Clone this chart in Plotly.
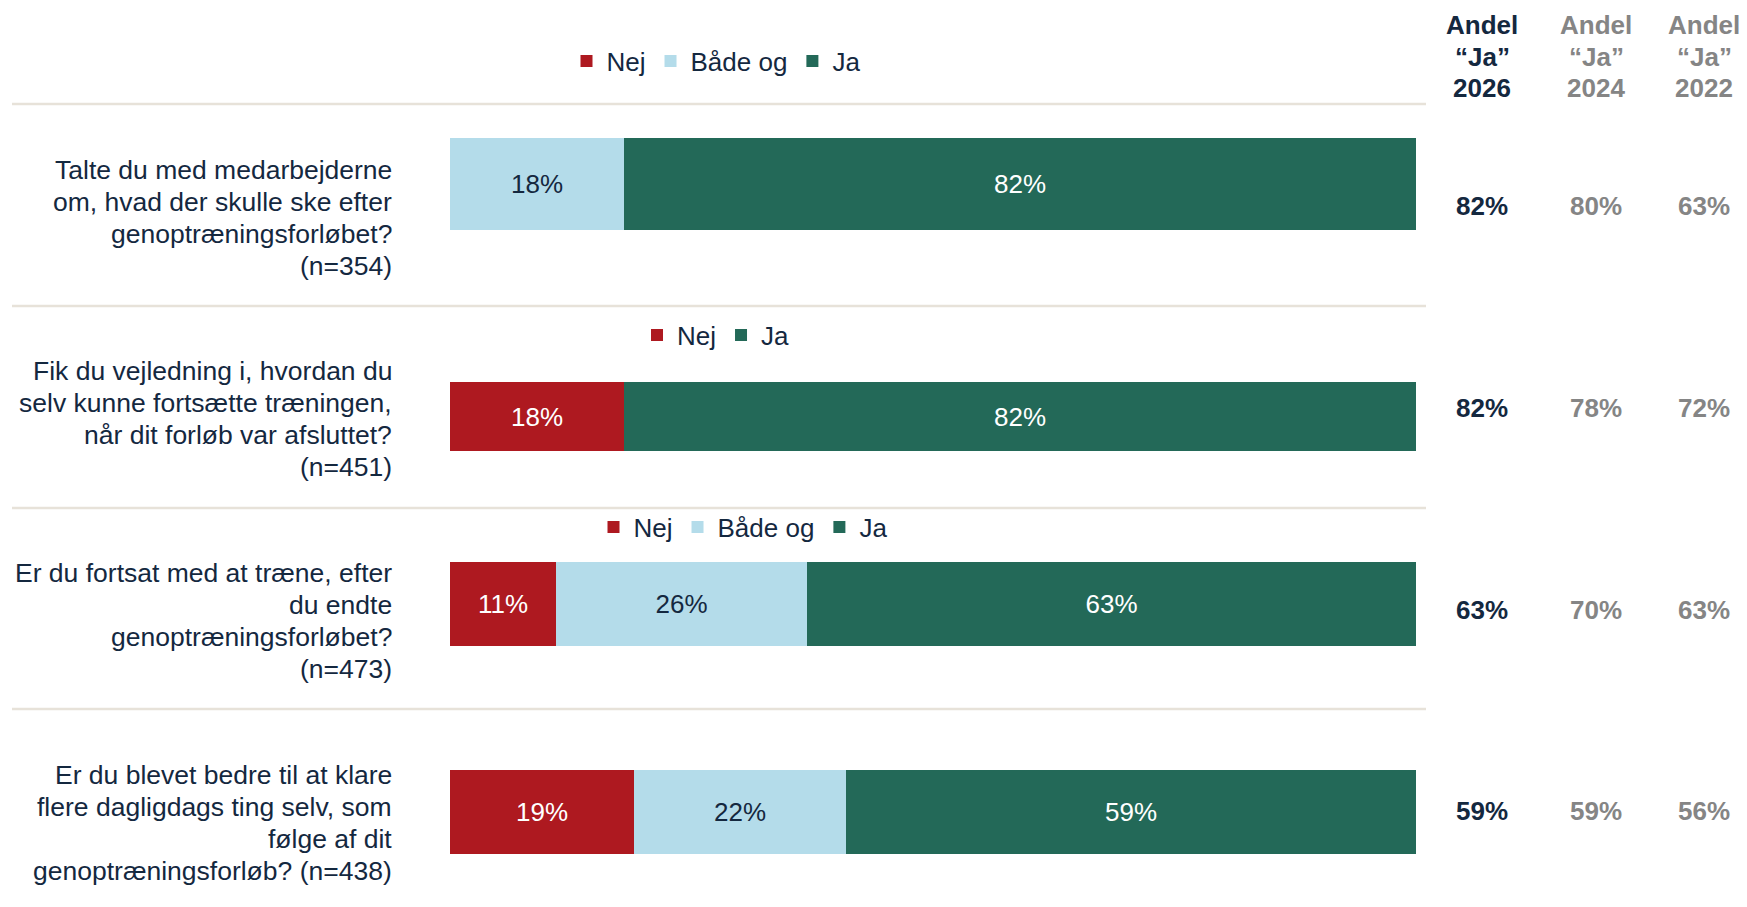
import plotly.graph_objects as go

# ---------------- data ----------------
questions = [
    "Talte du med medarbejderne<br>om, hvad der skulle ske efter<br>genoptræningsforløbet?<br>(n=354)",
    "Fik du vejledning i, hvordan du<br>selv kunne fortsætte træningen,<br>når dit forløb var afsluttet?<br>(n=451)",
    "Er du fortsat med at træne, efter<br>du endte<br>genoptræningsforløbet?<br>(n=473)",
    "Er du blevet bedre til at klare<br>flere dagligdags ting selv, som<br>følge af dit<br>genoptræningsforløb? (n=438)",
]
categories = ["Nej", "Både og", "Ja"]
nej = [0, 18, 11, 19]
baade_og = [18, None, 26, 22]
ja = [82, 82, 63, 59]

year_headers = ["2026", "2024", "2022"]
andel_ja_2026 = [82, 82, 63, 59]
andel_ja_2024 = [80, 78, 70, 59]
andel_ja_2022 = [63, 72, 63, 56]

# ---------------- layout constants (page pixels) ----------------
PAGE_MARGIN = 8                     # default body margin of the html page
W, H = 1747 - PAGE_MARGIN, 907 - PAGE_MARGIN


def px_x(p):
    return (p - PAGE_MARGIN) / W


def px_y(p):
    return p - PAGE_MARGIN


PLOT_X0, PLOT_X1 = 450, 1416
bar_centers = [184, 416.5, 604, 812]
bar_thickness = [92, 69, 84, 84]
label_centers = [218, 419, 621, 823]
LABEL_LINE = 32.3
value_centers = [206, 408, 610, 811]
separators = [104, 306, 508, 709]
col_centers = [1482, 1596, 1704]
header_line_y = [25, 57, 88]
legend_pos = [(716, 61), (716, 335), (743, 527)]

NAVY = "#14283f"
GREY = "#858585"
colors = {"Nej": "#ae1920", "Både og": "#b4dcea", "Ja": "#236958"}
text_colors = {"Nej": "white", "Både og": NAVY, "Ja": "white"}
FONT = "Arial, Liberation Sans, sans-serif"

series = {"Nej": nej, "Både og": baade_og, "Ja": ja}
legend_names = ["legend", "legend2", "legend3", None]

fig = go.Figure()
for i in range(len(questions)):
    for c in categories:
        v = series[c][i]
        if v is None:
            continue
        lg = legend_names[i]
        fig.add_trace(go.Bar(
            x=[v], y=[px_y(bar_centers[i])], width=[bar_thickness[i]],
            orientation="h", name=c,
            marker=dict(color=colors[c], line=dict(width=0)),
            text=[f"{v}%" if v else ""], textposition="inside",
            insidetextanchor="middle",
            textfont=dict(family=FONT, size=26, color=text_colors[c]),
            showlegend=lg is not None,
            legend=lg if lg else "legend",
            hoverinfo="skip",
        ))

# separators
for s in separators:
    fig.add_shape(type="line", xref="paper", yref="y",
                  x0=px_x(12), x1=px_x(1426), y0=px_y(s), y1=px_y(s),
                  line=dict(color="#e7e2d9", width=2.5))

annotations = []
# question labels (one annotation per line for PowerPoint-like line spacing)
for i, q in enumerate(questions):
    lines = q.split("<br>")
    n = len(lines)
    for j, line in enumerate(lines):
        yy = label_centers[i] + (j - (n - 1) / 2) * LABEL_LINE
        annotations.append(dict(
            text=line, xref="paper", yref="y", x=px_x(394), y=px_y(yy),
            xanchor="right", yanchor="middle", align="right", showarrow=False,
            font=dict(family=FONT, size=26.5, color=NAVY)))

# column headers and values
cols = [andel_ja_2026, andel_ja_2024, andel_ja_2022]
for k, (vals, yr) in enumerate(zip(cols, year_headers)):
    col = NAVY if k == 0 else GREY
    for line, ly in zip(["Andel", "“Ja”", yr], header_line_y):
        annotations.append(dict(
            text=f"<b>{line}</b>", xref="paper", yref="y",
            x=px_x(col_centers[k]), y=px_y(ly), xanchor="center",
            yanchor="middle", showarrow=False,
            font=dict(family=FONT, size=26, color=col)))
    for i, v in enumerate(vals):
        annotations.append(dict(
            text=f"<b>{v}%</b>", xref="paper", yref="y",
            x=px_x(col_centers[k]), y=px_y(value_centers[i]), xanchor="center",
            yanchor="middle", showarrow=False,
            font=dict(family=FONT, size=26, color=col)))

legend_style = dict(orientation="h", xanchor="center", yanchor="middle",
                    font=dict(family=FONT, size=26, color=NAVY),
                    bgcolor="rgba(0,0,0,0)", traceorder="normal",
                    itemwidth=30, itemclick=False, itemdoubleclick=False)

legends = {}
for k, name in enumerate(["legend", "legend2", "legend3"]):
    lx, ly = legend_pos[k]
    legends[name] = dict(x=px_x(lx), y=1 - px_y(ly) / H, **legend_style)

fig.update_layout(
    width=W, height=H, margin=dict(l=0, r=0, t=0, b=0),
    paper_bgcolor="white", plot_bgcolor="white",
    barmode="stack", bargap=0,
    xaxis=dict(range=[0, 100], domain=[px_x(PLOT_X0), px_x(PLOT_X1)],
               visible=False, fixedrange=True),
    yaxis=dict(range=[H, 0], domain=[0, 1], visible=False, fixedrange=True),
    annotations=annotations,
    font=dict(family=FONT, color=NAVY),
    **legends,
)

fig.write_html("out.html")
